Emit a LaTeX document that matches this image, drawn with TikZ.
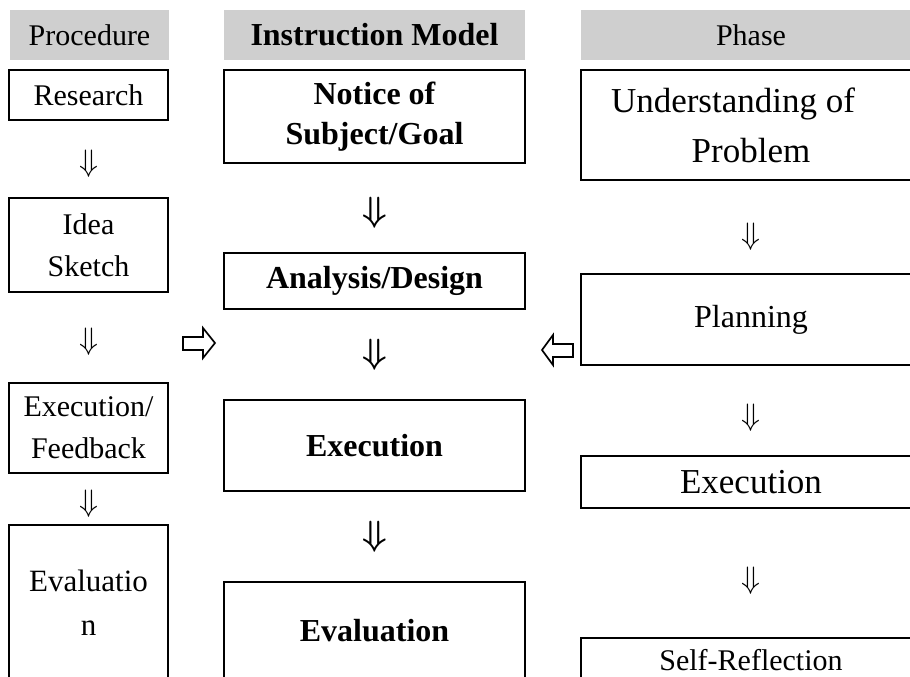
\documentclass[tikz,border=0pt]{standalone}
\usepackage{fontspec}
\setmainfont{Liberation Serif}
\usepackage{xcolor}
\definecolor{headgrey}{HTML}{CFCFCF}

\begin{document}
\begin{tikzpicture}[
  x=1pt, y=-1pt,
  head/.style={fill=headgrey, minimum height=50pt, inner sep=0pt, font=\fontsize{30}{36}\selectfont},
  stage/.style={draw, line width=1.7pt, inner sep=0pt, align=center, font=\fontsize{30}{42}\selectfont},
  proc/.style={stage, minimum width=159pt},
  model/.style={stage, minimum width=301pt, font=\bfseries\fontsize{32}{40}\selectfont},
  phase/.style={stage, minimum width=340pt, font=\fontsize{32}{50}\selectfont},
  down/.style={inner sep=0pt, scale=3.1},
  bolddown/.style={inner sep=0pt, scale=3.5, font=\boldmath},
  hollow/.style={draw, line width=1.7pt, line join=miter, fill=white}
]
  \useasboundingbox (0,0) rectangle (910,677);
  \clip (0,0) rectangle (910,677);

  % column headers
  \node[head, minimum width=159pt] (hproc) at (89.5,35) {Procedure};
  \node[head, minimum width=301pt, font=\bfseries\fontsize{32}{36}\selectfont] (hmodel) at (374.5,35) {Instruction Model};
  \node[head, minimum width=340pt] (hphase) at (751,35) {Phase};

  % procedure column
  \node[proc, minimum height=50pt] (research) at (88.5,95) {Research};
  \node[proc, minimum height=94pt] (sketch) at (88.5,245) {Idea\\Sketch};
  \node[proc, minimum height=90pt] (feedback) at (88.5,428) {Execution/\\Feedback};
  \node[proc, minimum height=155pt, font=\fontsize{31}{44}\selectfont] (evalproc) at (88.5,602.5) {Evaluatio\\n};

  \path (research) -- node[yshift=-5pt, down] (p1) {$\Downarrow$} (sketch);
  \path (sketch) -- node[yshift=-4pt, down] (p2) {$\Downarrow$} (feedback);
  \path (feedback) -- node[yshift=-5pt, down] (p3) {$\Downarrow$} (evalproc);

  % instruction model column
  \node[model, minimum height=93pt] (notice) at (374.5,116.5) {Notice of\\Subject/Goal};
  \node[model, minimum height=56pt] (design) at (374.5,281) {Analysis/Design};
  \node[model, minimum height=91pt] (execmodel) at (374.5,445.5) {Execution};
  \node[model, minimum height=98pt] (evalmodel) at (374.5,631) {Evaluation};

  \path (notice) -- node[yshift=-5pt, bolddown] (m1) {$\Downarrow$} (design);
  \path (design) -- node[bolddown] (m2) {$\Downarrow$} (execmodel);
  \path (execmodel) -- node[bolddown] (m3) {$\Downarrow$} (evalmodel);

  % phase column
  \node[phase, minimum height=110pt, font=\fontsize{35}{50}\selectfont] (understand) at (751,125) {Understanding of\hspace*{36pt}\\Problem};
  \node[phase, minimum height=91pt] (planning) at (751,319.5) {Planning};
  \node[phase, minimum height=52pt, font=\fontsize{35}{42}\selectfont] (execphase) at (751,482) {Execution};
  \node[phase, minimum height=44pt, font=\fontsize{30}{42}\selectfont] (reflect) at (751,660) {Self-Reflection};

  \path (understand) -- node[yshift=-10pt, down] (f1) {$\Downarrow$} (planning);
  \path (planning) -- node[yshift=-7pt, down] (f2) {$\Downarrow$} (execphase);
  \path (execphase) -- node[yshift=-8pt, down] (f3) {$\Downarrow$} (reflect);

  % both sides feed the model
  \draw[hollow] (183,337) -- (203,337) -- (203,328) -- (215,343) -- (203,358) -- (203,350) -- (183,350) -- cycle;
  \draw[hollow] (573,344) -- (553,344) -- (553,335) -- (542,350) -- (553,365) -- (553,357) -- (573,357) -- cycle;
\end{tikzpicture}
\end{document}
